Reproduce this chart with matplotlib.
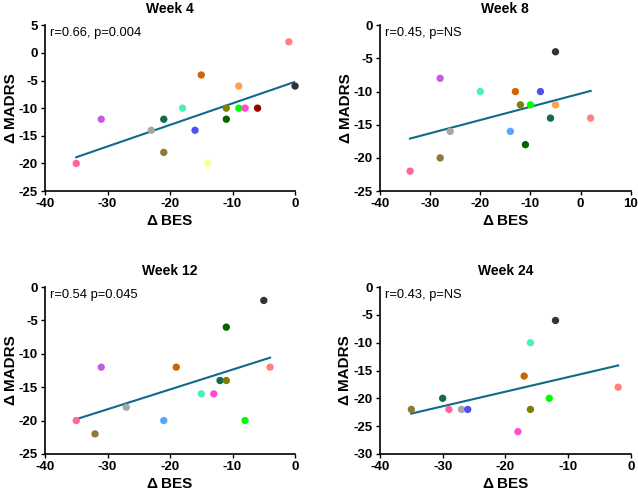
import numpy as np
import matplotlib
matplotlib.use("Agg")
import matplotlib.pyplot as plt

plt.rcParams['font.family'] = ['Liberation Sans', 'DejaVu Sans']
plt.rcParams['axes.unicode_minus'] = False

# colours per subject
c_pink = "#ff6699"
c_purple = "#c65ce6"
c_gray = "#a6a6a6"
c_teal = "#16694a"
c_brown = "#8c7a3a"
c_aqua = "#4df0b0"
c_orange = "#cc6600"
c_blue = "#5050f0"
c_yellow = "#ffff99"
c_olive = "#808000"
c_green = "#006600"
c_lorange = "#ff9f50"
c_lime = "#00ff00"
c_magenta = "#ff4dd2"
c_red = "#990000"
c_salmon = "#ff8080"
c_dark = "#333333"
c_lblue = "#55a5ff"

# Week 4
w4_bes = [-35, -31, -23, -21, -21, -18, -15, -16, -14, -11, -11, -9, -9, -8, -6, -1, 0]
w4_madrs = [-20, -12, -14, -12, -18, -10, -4, -14, -20, -10, -12, -6, -10, -10, -10, 2, -6]
w4_col = [c_pink, c_purple, c_gray, c_teal, c_brown, c_aqua, c_orange, c_blue, c_yellow,
          c_olive, c_green, c_lorange, c_lime, c_magenta, c_red, c_salmon, c_dark]

# Week 8
w8_bes = [-34, -28, -28, -26, -20, -13, -14, -12, -10, -11, -8, -5, -5, -6, 2]
w8_madrs = [-22, -8, -20, -16, -10, -10, -16, -12, -12, -18, -10, -4, -12, -14, -14]
w8_col = [c_pink, c_purple, c_brown, c_gray, c_aqua, c_orange, c_lblue, c_olive, c_lime,
          c_green, c_blue, c_dark, c_lorange, c_teal, c_salmon]

# Week 12
w12_bes = [-35, -31, -32, -27, -21, -19, -15, -13, -12, -11, -11, -8, -5, -4]
w12_madrs = [-20, -12, -22, -18, -20, -12, -16, -16, -14, -14, -6, -20, -2, -12]
w12_col = [c_pink, c_purple, c_brown, c_gray, c_lblue, c_orange, c_aqua, c_magenta, c_teal,
           c_olive, c_green, c_lime, c_dark, c_salmon]

# Week 24
w24_bes = [-35, -30, -29, -27, -26, -18, -17, -16, -16, -13, -12, -2]
w24_madrs = [-22, -20, -22, -22, -22, -26, -16, -10, -22, -20, -6, -18]
w24_col = [c_brown, c_teal, c_pink, c_gray, c_blue, c_magenta, c_orange, c_aqua, c_olive,
           c_lime, c_dark, c_salmon]

panels = [
    ("Week 4", "r=0.66, p=0.004", w4_bes, w4_madrs, w4_col, (-40, 0), (-25, 5)),
    ("Week 8", "r=0.45, p=NS", w8_bes, w8_madrs, w8_col, (-40, 10), (-25, 0)),
    ("Week 12", "r=0.54 p=0.045", w12_bes, w12_madrs, w12_col, (-40, 0), (-25, 0)),
    ("Week 24", "r=0.43, p=NS", w24_bes, w24_madrs, w24_col, (-40, 0), (-30, 0)),
]

positions = [
    [0.0705, 0.614, 0.392, 0.335],
    [0.5956, 0.614, 0.393, 0.335],
    [0.0705, 0.083, 0.392, 0.337],
    [0.5956, 0.083, 0.393, 0.337],
]

fig = plt.figure(figsize=(6.38, 4.95), dpi=100)

for (title, note, xs, ys, cols, xl, yl), pos in zip(panels, positions):
    ax = fig.add_axes(pos)
    xs = np.array(xs)
    ys = np.array(ys)
    ax.scatter(xs, ys, c=cols, s=28, zorder=3, linewidths=0, clip_on=False)
    # regression line over the data range
    m, b = np.polyfit(xs, ys, 1)
    xx = np.array([xs.min(), xs.max()])
    ax.plot(xx, m * xx + b, color="#0f6a8b", lw=1.5, zorder=2)

    ax.set_xlim(xl)
    ax.set_ylim(yl)
    ax.set_xticks(np.arange(xl[0], xl[1] + 1, 10))
    ax.set_yticks(np.arange(yl[0], yl[1] + 1, 5))
    ax.spines['top'].set_visible(False)
    ax.spines['right'].set_visible(False)
    ax.spines['left'].set_linewidth(1.2)
    ax.spines['bottom'].set_linewidth(1.2)
    ax.tick_params(direction='out', length=3, width=1, labelsize=9.5, pad=2)
    for lab in ax.get_xticklabels() + ax.get_yticklabels():
        lab.set_fontweight('bold')
    ax.set_title(title, fontsize=10, fontweight='bold', pad=9)
    ax.set_xlabel("\u0394\u2009BES", fontsize=11, fontweight='bold', labelpad=3)
    ax.set_ylabel("\u0394\u2009MADRS", fontsize=11, fontweight='bold', labelpad=1)
    ax.text(0.02, 0.99, note, transform=ax.transAxes, ha='left', va='top', fontsize=9.3)

fig.savefig("out.png", dpi=100)
